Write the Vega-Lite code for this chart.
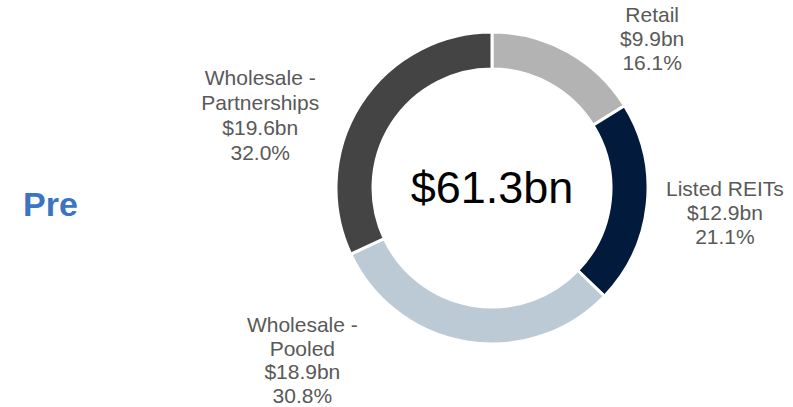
{
  "$schema": "https://vega.github.io/schema/vega-lite/v6.json",
  "width": 310,
  "height": 310,
  "autosize": {"type": "none"},
  "padding": {"left": 337, "top": 33, "right": 146, "bottom": 64},
  "background": "white",
  "config": {"view": {"stroke": null}, "font": "Liberation Sans"},
  "data": {
    "values": [
      {"segment": "Retail", "value": 9.9, "rank": 1, "label": "Retail\n$9.9bn\n16.1%"},
      {"segment": "Listed REITs", "value": 12.9, "rank": 2, "label": "Listed REITs\n$12.9bn\n21.1%"},
      {"segment": "Wholesale - Pooled", "value": 18.9, "rank": 3, "label": "Wholesale -\nPooled\n$18.9bn\n30.8%"},
      {"segment": "Wholesale - Partnerships", "value": 19.6, "rank": 4, "label": "Wholesale -\nPartnerships\n$19.6bn\n32.0%"}
    ]
  },
  "encoding": {
    "theta": {"field": "value", "type": "quantitative", "stack": true},
    "order": {"field": "rank", "type": "quantitative"}
  },
  "layer": [
    {
      "mark": {"type": "arc", "outerRadius": 156, "innerRadius": 119, "stroke": "white", "strokeWidth": 3},
      "encoding": {
        "color": {
          "field": "segment",
          "type": "nominal",
          "scale": {
            "domain": ["Retail", "Listed REITs", "Wholesale - Pooled", "Wholesale - Partnerships"],
            "range": ["#b3b3b3", "#021a3b", "#bccad6", "#444444"]
          },
          "legend": null
        }
      }
    },
    {
      "mark": {"type": "text", "radius": 200, "fontSize": 21, "lineHeight": 24, "lineBreak": "\n", "color": "#595959", "align": "center", "baseline": "middle", "dx": 63, "dy": 3},
      "encoding": {"text": {"condition": {"test": "datum.segment === 'Retail'", "field": "label"}, "value": ""}}
    },
    {
      "mark": {"type": "text", "radius": 200, "fontSize": 21, "lineHeight": 24, "lineBreak": "\n", "color": "#595959", "align": "center", "baseline": "middle", "dx": 34, "dy": -19},
      "encoding": {"text": {"condition": {"test": "datum.segment === 'Listed REITs'", "field": "label"}, "value": ""}}
    },
    {
      "mark": {"type": "text", "radius": 200, "fontSize": 21, "lineHeight": 23.5, "lineBreak": "\n", "color": "#595959", "align": "center", "baseline": "middle", "dx": -157, "dy": -59},
      "encoding": {"text": {"condition": {"test": "datum.segment === 'Wholesale - Pooled'", "field": "label"}, "value": ""}}
    },
    {
      "mark": {"type": "text", "radius": 200, "fontSize": 21, "lineHeight": 25, "lineBreak": "\n", "color": "#595959", "align": "center", "baseline": "middle", "dx": -63, "dy": -2},
      "encoding": {"text": {"condition": {"test": "datum.segment === 'Wholesale - Partnerships'", "field": "label"}, "value": ""}}
    },
    {
      "data": {"values": [{"total": "$61.3bn"}]},
      "mark": {"type": "text", "fontSize": 45, "color": "#000000", "align": "center", "baseline": "alphabetic", "dy": 15},
      "encoding": {"text": {"field": "total", "type": "nominal"}, "theta": null, "order": null}
    },
    {
      "data": {"values": [{"title": "Pre"}]},
      "mark": {"type": "text", "fontSize": 34, "fontWeight": "bold", "color": "#3a74c2", "align": "left", "baseline": "alphabetic", "dx": -469, "dy": 28},
      "encoding": {"text": {"field": "title", "type": "nominal"}, "theta": null, "order": null}
    }
  ]
}
